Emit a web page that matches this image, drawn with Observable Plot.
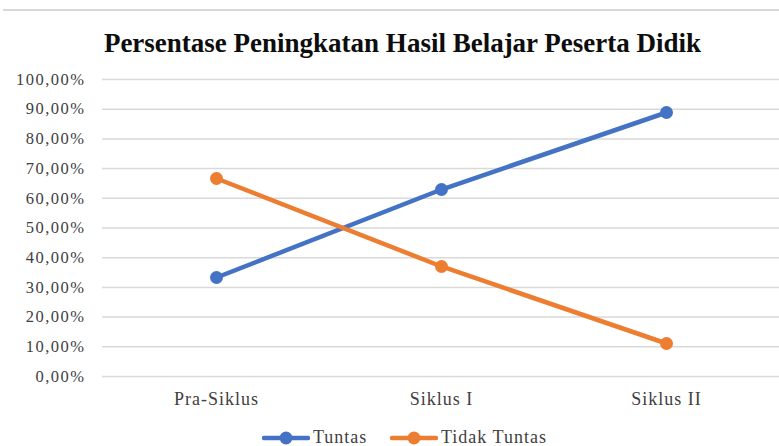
<!DOCTYPE html>
<html>
<head>
<meta charset="utf-8">
<script src="https://cdn.jsdelivr.net/npm/d3@7"></script>
<script src="https://cdn.jsdelivr.net/npm/@observablehq/plot@0.6"></script>
<style>
  html, body { margin: 0; padding: 0; background: #fff; }
  #wrap { position: relative; width: 779px; height: 446px; overflow: hidden; font-family: "Liberation Serif", "Times New Roman", serif; }
  #topline { position: absolute; left: 3px; right: 0; top: 9px; height: 0; border-top: 2px solid #d9d9d9; }
  #title { position: absolute; left: 0; width: 805px; top: 30px; line-height: 27px; text-align: center; font-weight: bold; font-size: 27px; color: #0d0d0d; white-space: nowrap; }
  #chart { position: absolute; left: 0; top: 60px; }
  #chart g[aria-label="y-axis tick label"] text { letter-spacing: 1.5px; }
  #chart g[aria-label="x-axis tick label"] text { letter-spacing: 1px; }
  #legend { position: absolute; left: 0; top: 427px; width: 779px; height: 20px; font-size: 18px; letter-spacing: 1px; color: #404040; }
  .item { position: absolute; top: 0; display: flex; align-items: center; white-space: nowrap; }
  .item svg { margin-right: 3px; }
</style>
</head>
<body>
<div id="wrap">
  <div id="topline"></div>
  <div id="title">Persentase Peningkatan Hasil Belajar Peserta Didik</div>
  <div id="chart"></div>
  <div id="legend"></div>
</div>
<script>
const categories = ["Pra-Siklus", "Siklus I", "Siklus II"];
const seriesNames = ["Tuntas", "Tidak Tuntas"];
const tuntas = [33.33, 62.96, 88.89];
const tidakTuntas = [66.67, 37.04, 11.11];
const yTicks = [0, 10, 20, 30, 40, 50, 60, 70, 80, 90, 100];
const colors = ["#4472C4", "#ED7D31"];

const rows = [];
categories.forEach((c, i) => {
  rows.push({category: c, series: seriesNames[0], value: tuntas[i]});
  rows.push({category: c, series: seriesNames[1], value: tidakTuntas[i]});
});

const fmt = d => d.toFixed(2).replace(".", ",") + "%";

const chart = Plot.plot({
  width: 779,
  height: 355,
  marginTop: 19,
  marginBottom: 39,
  marginLeft: 102,
  marginRight: 0,
  style: {fontFamily: "'Liberation Serif', 'Times New Roman', serif", color: "#404040", background: "transparent"},
  x: {type: "point", domain: categories, padding: 0.5},
  y: {domain: [0, 100]},
  color: {domain: seriesNames, range: colors},
  marks: [
    Plot.ruleY(yTicks, {stroke: "#d9d9d9", strokeWidth: 1.5}),
    Plot.axisY({ticks: yTicks, tickFormat: fmt, tickSize: 0, tickPadding: 17, label: null, fontSize: 16.5, fill: "#404040"}),
    Plot.axisX({tickSize: 0, tickPadding: 16, label: null, fontSize: 18, fill: "#404040"}),
    Plot.line(rows, {x: "category", y: "value", z: "series", stroke: "series", strokeWidth: 4.5, strokeLinecap: "round"}),
    Plot.dot(rows, {x: "category", y: "value", fill: "series", r: 6.5})
  ]
});
document.getElementById("chart").appendChild(chart);

const legend = document.getElementById("legend");
const lefts = [262, 390];
seriesNames.forEach((name, i) => {
  const item = document.createElement("div");
  item.className = "item";
  item.style.left = lefts[i] + "px";
  item.innerHTML = `<svg width="48" height="20"><line x1="2" x2="46" y1="10" y2="10" stroke="${colors[i]}" stroke-width="4.5" stroke-linecap="round"/><circle cx="24" cy="10" r="6.5" fill="${colors[i]}"/></svg><span>${name}</span>`;
  legend.appendChild(item);
});
</script>
</body>
</html>
